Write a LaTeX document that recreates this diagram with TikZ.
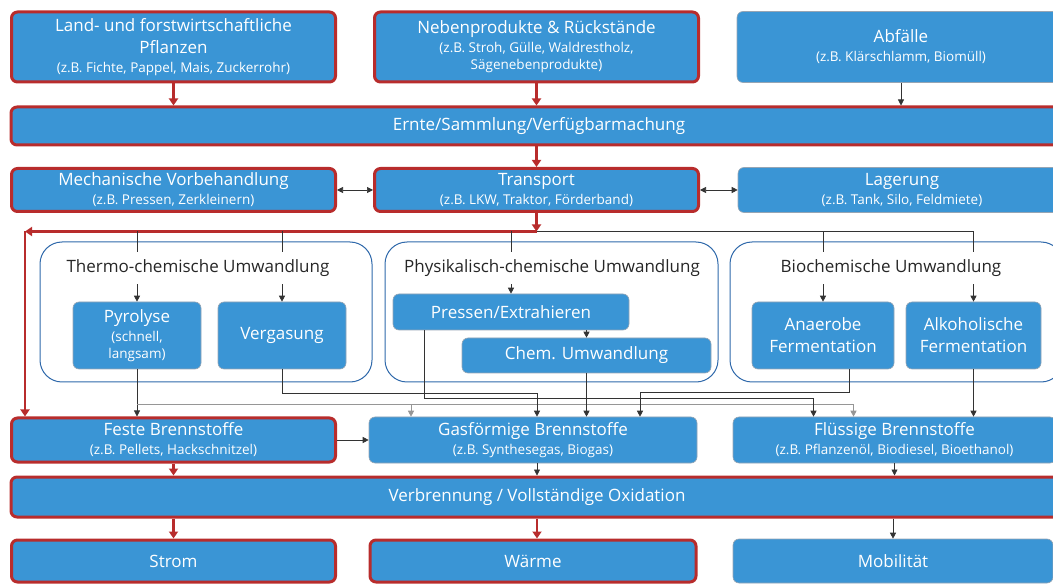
\documentclass[tikz,border=0pt]{standalone}
\usepackage{fontspec}
\setmainfont{Open Sans}
\usetikzlibrary{arrows.meta}

\definecolor{boxblue}{RGB}{58,149,213}
\definecolor{keyred}{RGB}{184,44,44}
\definecolor{groupblue}{RGB}{46,104,170}
\definecolor{boxedge}{RGB}{150,165,180}
\definecolor{linegray}{RGB}{150,150,150}
\newcommand{\subtxt}{\fontsize{13.5}{17}\selectfont}

\begin{document}
\begin{tikzpicture}[x=1pt, y=-1pt,
    every node/.style={font=\fontsize{17}{22}\selectfont, align=center, inner sep=0pt},
    box/.style={draw=boxedge, line width=0.6pt, rectangle, rounded corners=6pt, fill=boxblue, text=white},
    keybox/.style={box, draw=keyred, line width=3pt},
    group/.style={draw=groupblue, line width=1pt, rectangle, rounded corners=22pt},
    label/.style={minimum height=32pt, text=black!85},
    link/.style={draw=black!80, line width=0.7pt},
    flow/.style={link, -{Triangle[width=6pt,length=6pt]}},
    dflow/.style={link, {Triangle[width=6pt,length=6pt]}-{Triangle[width=6pt,length=6pt]}},
    grayflow/.style={flow, draw=linegray},
    keyflow/.style={draw=keyred, line width=2.5pt, -{Triangle[width=9pt,length=7pt]}}]
    \useasboundingbox (0,0) rectangle (1053,585);
    \clip (0,0) rectangle (1053,585);

    % Source nodes
    \node[keybox, minimum width=324pt, minimum height=70pt] (land) at (173.5,47) {Land- und forstwirtschaftliche\\Pflanzen\\[-3pt]\subtxt (z.B. Fichte, Pappel, Mais, Zuckerrohr)};
    \node[keybox, minimum width=324pt, minimum height=70pt] (neben) at (536.5,47) {Nebenprodukte \& Rückstände\\[-3pt]\subtxt (z.B. Stroh, Gülle, Waldrestholz,\\[-5pt]\subtxt Sägenebenprodukte)};
    \node[box, minimum width=328pt, minimum height=71pt] (abf) at (901,47) {Abfälle\\[-3pt]\subtxt (z.B. Klärschlamm, Biomüll)};

    % Supply nodes
    \node[keybox, minimum width=1056pt, minimum height=38pt] (ernte) at (539,126) {Ernte/Sammlung/Verfügbarmachung};
    \node[keybox, minimum width=324pt, minimum height=43pt] (mech) at (173.5,190) {Mechanische Vorbehandlung\\[-3pt]\subtxt (z.B. Pressen, Zerkleinern)};
    \node[keybox, minimum width=324pt, minimum height=43pt] (transport) at (536.5,190) {Transport\\[-3pt]\subtxt (z.B. LKW, Traktor, Förderband)};
    \node[box, minimum width=328pt, minimum height=45pt] (lager) at (902,190) {Lagerung\\[-3pt]\subtxt (z.B. Tank, Silo, Feldmiete)};

    % Conversion groups
    \node[group, minimum width=332pt, minimum height=140pt] (thermo) at (206,312) {};
    \node[group, minimum width=333pt, minimum height=140pt] (phys) at (551.5,312) {};
    \node[group, minimum width=333pt, minimum height=140pt] (bio) at (896.5,312) {};
    \node[label] (thermolbl) at (198,268) {Thermo-chemische Umwandlung};
    \node[label] (physlbl) at (552,268) {Physikalisch-chemische Umwandlung};
    \node[label] (biolbl) at (891,268) {Biochemische Umwandlung};

    % Conversion nodes
    \node[box, minimum width=128pt, minimum height=67pt] (pyro) at (137,335.5) {Pyrolyse\\[-3pt]\subtxt (schnell,\\[-5pt]\subtxt langsam)};
    \node[box, minimum width=128pt, minimum height=67pt] (verg) at (282,335.5) {Vergasung};
    \node[box, minimum width=236pt, minimum height=36pt] (pressen) at (511,312) {Pressen/Extrahieren};
    \node[box, minimum width=249pt, minimum height=35pt] (chem) at (586.5,355.5) {Chem. Umwandlung};
    \node[box, minimum width=142pt, minimum height=67pt] (anaer) at (823,335.5) {Anaerobe\\Fermentation};
    \node[box, minimum width=135pt, minimum height=67pt] (alk) at (973.5,335.5) {Alkoholische\\Fermentation};

    % Fuel nodes
    \node[keybox, minimum width=324pt, minimum height=44pt] (feste) at (173.5,440) {Feste Brennstoffe\\[-3pt]\subtxt (z.B. Pellets, Hackschnitzel)};
    \node[box, minimum width=328pt, minimum height=46pt] (gas) at (533,440) {Gasförmige Brennstoffe\\[-3pt]\subtxt (z.B. Synthesegas, Biogas)};
    \node[box, minimum width=323pt, minimum height=46pt] (fluess) at (894.5,440) {Flüssige Brennstoffe\\[-3pt]\subtxt (z.B. Pflanzenöl, Biodiesel, Bioethanol)};

    % Use nodes
    \node[keybox, minimum width=1052pt, minimum height=40pt] (verb) at (537,497) {Verbrennung / Vollständige Oxidation};
    \node[keybox, minimum width=324pt, minimum height=42pt] (strom) at (173.5,561) {Strom};
    \node[keybox, minimum width=326pt, minimum height=42pt] (waerme) at (533,561) {Wärme};
    \node[box, minimum width=320pt, minimum height=44pt] (mobil) at (893,561) {Mobilität};

    % Supply edges
    \draw[keyflow] (land.south) -- (land.south |- ernte.north);
    \draw[keyflow] (neben.south) -- (neben.south |- ernte.north);
    \draw[flow] (abf.south) -- (abf.south |- ernte.north);
    \draw[keyflow] (ernte.south -| transport.north) -- (transport.north);
    \draw[dflow] (mech.east) -- (transport.west);
    \draw[dflow] (transport.east) -- (lager.west);

    % Distribution line
    \coordinate (hub) at ([yshift=-18.5pt]transport.south);
    \coordinate (turn) at ([xshift=15pt]feste.north west |- hub);
    \draw[keyflow] (transport.south) -- (hub);
    \draw[keyflow] (hub) -- (turn);
    \draw[keyflow] (turn) -- (turn |- feste.north);
    \draw[link] (hub) -- (hub -| alk.north);
    \draw[link] (pyro.north |- hub) -- (pyro.north |- thermolbl.north);
    \draw[link] (verg.north |- hub) -- (verg.north |- thermolbl.north);
    \draw[link] (pressen.north |- hub) -- (pressen.north |- physlbl.north);
    \draw[link] (anaer.north |- hub) -- (anaer.north |- biolbl.north);
    \draw[link] (alk.north |- hub) -- (alk.north |- biolbl.north);
    \draw[flow] (pyro.north |- thermolbl.south) -- (pyro.north);
    \draw[flow] (verg.north |- thermolbl.south) -- (verg.north);
    \draw[flow] (pressen.north |- physlbl.south) -- (pressen.north);
    \draw[flow] (anaer.north |- biolbl.south) -- (anaer.north);
    \draw[flow] (alk.north |- biolbl.south) -- (alk.north);
    \draw[flow] (chem.north |- pressen.south) -- (chem.north);

    % Conversion edges
    \draw[flow] (pyro.south) -- (pyro.south |- feste.north);
    \draw[grayflow] ([yshift=-35pt]pyro.south) -| ([xshift=-41pt]fluess.north);
    \draw[grayflow] ([yshift=-35pt]pyro.south) -| ([xshift=-122pt]gas.north);
    \draw[flow] (verg.south) -- ++(0,24) -| ([xshift=4pt]gas.north);
    \draw[flow] ([xshift=-87pt]pressen.south) -- ++(0,68) -| ([xshift=-81pt]fluess.north);
    \draw[flow] (chem.south) -- (chem.south |- gas.north);
    \draw[flow] ([xshift=26pt]anaer.south) -- ++(0,23) -| ([xshift=107pt]gas.north);
    \draw[flow] (alk.south) -- (alk.south |- fluess.north);

    % Fuel edges
    \draw[flow] (feste.east) -- (gas.west);
    \draw[keyflow] (feste.south) -- (feste.south |- verb.north);
    \draw[flow] ([xshift=4pt]gas.south) -- ([xshift=4pt]gas.south |- verb.north);
    \draw[flow] (fluess.south) -- (fluess.south |- verb.north);
    \draw[keyflow] (strom.north |- verb.south) -- (strom.north);
    \draw[keyflow] ([xshift=4pt]waerme.north |- verb.south) -- ([xshift=4pt]waerme.north);
    \draw[flow] (mobil.north |- verb.south) -- (mobil.north);
\end{tikzpicture}
\end{document}
